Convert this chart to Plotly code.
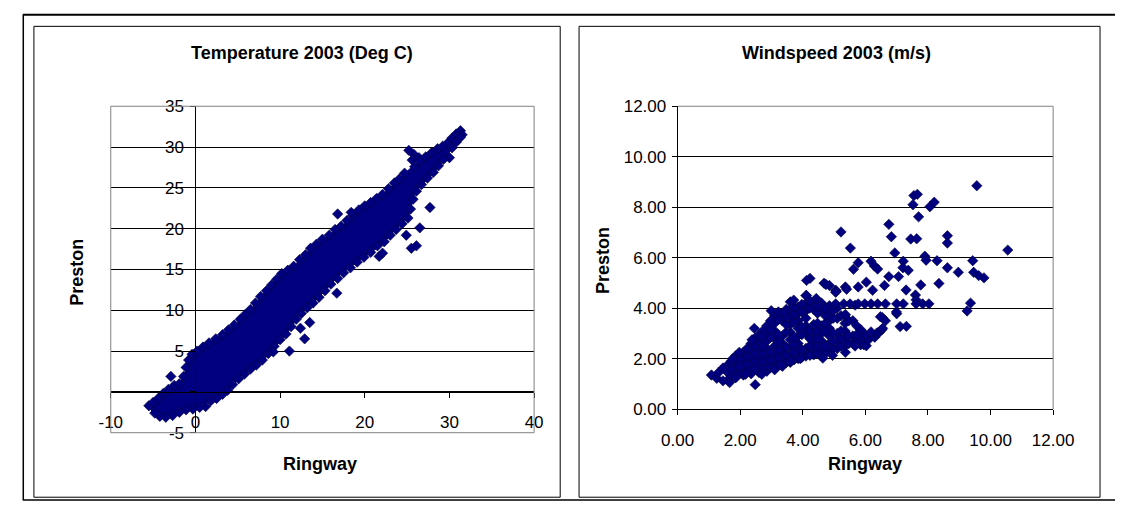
import plotly.graph_objects as go

# ------------------------------------------------------------------
# DATA
# ------------------------------------------------------------------
# Temperature 2003 (Deg C): Ringway (x) vs Preston (y)
# outline of the solid, fully over-plotted core of the cloud
temp_core_outline = [
    (-5.6, -1.6), (-4.5, -0.8), (-3.2, 0.3), (-1.8, 1.0), (-1.2, 2.5), (-0.7, 4.2),
    (0.0, 4.9), (0.8, 5.5), (2.7, 6.7), (4.5, 8.0), (6.5, 10.0), (8.0, 12.0),
    (10.0, 14.3), (12.0, 15.8), (13.7, 17.6), (15.2, 18.8), (17.5, 20.5), (19.0, 22.0),
    (21.3, 23.6), (22.8, 24.8), (24.4, 26.5), (25.5, 27.5), (27.0, 28.6), (28.9, 29.8),
    (30.4, 31.3), (31.2, 31.6),
    (31.0, 31.0), (30.6, 30.4), (29.6, 28.7), (28.1, 26.8), (25.9, 24.4), (25.1, 21.3),
    (23.6, 19.9), (22.1, 18.1), (19.8, 16.4), (17.1, 14.4), (14.5, 11.5), (12.5, 9.7),
    (10.7, 7.0), (8.4, 4.3), (5.7, 2.2), (3.8, 0.2), (2.0, -1.0), (0.8, -1.5),
    (0.0, -2.0), (-1.5, -2.4), (-3.0, -3.0), (-4.3, -3.0), (-5.2, -2.4),
]
# individual points along the upper edge of the cloud
temp_upper_edge = [
    (-5.5, -1.7), (-5.0, -1.3), (-4.4, -0.8), (-3.8, -0.2), (-3.2, 0.3), (-2.9, 1.9),
    (-2.5, 0.8), (-1.9, 1.0), (-1.4, 1.9), (-1.1, 3.0), (-0.8, 3.9), (-0.4, 4.6),
    (0.2, 5.0), (0.9, 5.5), (1.6, 6.0), (2.4, 6.5), (3.2, 7.0), (3.9, 7.6),
    (4.6, 8.2), (5.3, 8.9), (5.9, 9.5), (6.5, 10.1), (7.1, 10.9), (7.7, 11.7),
    (8.4, 12.4), (9.0, 13.1), (9.6, 13.8), (10.2, 14.5), (10.9, 14.9), (11.6, 15.4),
    (12.3, 16.2), (13.0, 16.8), (13.6, 17.6), (14.3, 18.1), (15.0, 18.7), (15.8, 19.2),
    (16.5, 19.9), (17.2, 20.3), (17.9, 21.0), (18.6, 21.6), (19.3, 22.3), (20.0, 22.8),
    (20.7, 23.2), (21.4, 23.7), (22.1, 24.2), (22.8, 24.9), (23.5, 25.6), (24.1, 26.1),
    (24.7, 26.8), (25.2, 29.6), (25.8, 29.1), (26.4, 28.7), (25.6, 28.4), (25.9, 27.6),
    (26.5, 28.3), (27.2, 28.8), (27.9, 29.3), (28.6, 29.8), (29.2, 30.1), (29.8, 30.5),
    (30.3, 31.1), (30.8, 31.6), (31.3, 32.0), (31.5, 31.5),
]
# individual points along the lower edge of the cloud
temp_lower_edge = [
    (31.3, 31.2), (30.8, 30.6), (30.3, 29.9), (30.0, 28.7), (29.3, 28.5), (28.7, 27.7),
    (28.1, 26.9), (27.4, 26.2), (26.7, 25.4), (26.1, 24.6), (25.7, 23.6), (25.4, 22.4),
    (25.1, 21.3), (24.4, 20.6), (23.7, 19.9), (23.0, 19.2), (22.3, 18.4), (21.5, 17.9),
    (20.7, 17.1), (19.9, 16.5), (19.1, 15.9), (18.3, 15.2), (17.5, 14.6), (16.8, 13.9),
    (16.0, 13.2), (15.3, 12.4), (14.6, 11.6), (13.9, 10.9), (13.2, 10.3), (12.5, 9.6),
    (11.9, 8.9), (11.3, 8.0), (10.7, 7.1), (10.0, 6.4), (9.3, 5.6), (8.6, 4.7),
    (7.9, 3.9), (7.2, 3.3), (6.5, 2.8), (5.8, 2.2), (5.1, 1.6), (4.4, 0.9),
    (3.8, 0.2), (3.2, -0.3), (2.5, -0.8), (1.8, -1.1), (1.2, -1.8), (0.5, -1.9),
    (-0.3, -2.1), (-1.1, -2.2), (-1.9, -2.5), (-2.7, -2.9), (-3.5, -3.1), (-4.2, -3.0),
    (-4.8, -2.6),
]
# isolated points away from the cloud
temp_outliers = [
    (16.8, 21.8), (18.4, 22.0), (16.7, 12.1), (13.5, 8.5), (12.9, 6.5), (12.4, 7.8),
    (11.1, 5.0), (9.2, 4.9), (21.7, 16.6), (22.1, 17.0), (24.9, 19.2), (25.5, 17.6),
    (26.1, 17.9), (26.5, 20.1), (27.7, 22.6),
]

# Windspeed 2003 (m/s): Ringway (x) vs Preston (y)
wind_core = [
    (1.6, 1.15), (1.6, 1.45), (1.6, 1.75),
    (1.85, 1.25), (1.85, 1.55), (1.85, 1.85), (1.85, 2.1),
    (2.1, 1.35), (2.1, 1.65), (2.1, 1.95), (2.1, 2.25),
    (2.35, 1.4), (2.35, 1.7), (2.35, 2.0), (2.35, 2.3), (2.35, 2.6),
    (2.6, 1.45), (2.6, 1.75), (2.6, 2.05), (2.6, 2.35), (2.6, 2.65), (2.6, 2.95),
    (2.85, 1.5), (2.85, 1.8), (2.85, 2.1), (2.85, 2.4), (2.85, 2.7), (2.85, 3.0), (2.85, 3.3),
    (3.1, 1.6), (3.1, 1.9), (3.1, 2.2), (3.1, 2.5), (3.1, 2.8), (3.1, 3.1), (3.1, 3.4), (3.1, 3.7),
    (3.35, 1.7), (3.35, 2.0), (3.35, 2.3), (3.35, 2.6), (3.35, 2.9), (3.35, 3.5), (3.35, 3.8),
    (3.6, 1.85), (3.6, 2.15), (3.6, 2.45), (3.6, 2.75), (3.6, 3.05), (3.6, 3.35), (3.6, 3.65),
    (3.6, 3.95), (3.6, 4.25),
    (3.85, 2.0), (3.85, 2.3), (3.85, 2.6), (3.85, 2.9), (3.85, 3.2), (3.85, 3.5), (3.85, 3.8),
    (3.85, 4.05),
    (4.1, 2.1), (4.1, 2.4), (4.1, 3.0), (4.1, 3.3), (4.1, 3.6), (4.1, 3.9), (4.1, 4.2), (4.1, 4.5),
    (4.35, 2.15), (4.35, 2.45), (4.35, 2.75), (4.35, 3.05), (4.35, 3.35), (4.35, 3.95), (4.35, 4.25),
    (4.6, 2.1), (4.6, 2.4), (4.6, 2.7), (4.6, 3.0), (4.6, 3.3), (4.6, 3.9), (4.6, 4.2),
    (4.85, 2.3), (4.85, 2.6), (4.85, 2.9), (4.85, 3.2), (4.85, 3.5), (4.85, 3.8), (4.85, 4.1),
    (5.1, 2.4), (5.1, 2.7), (5.1, 3.0), (5.1, 3.6), (5.1, 4.0),
    (5.35, 2.5), (5.35, 2.8), (5.35, 3.1), (5.35, 3.4), (5.35, 3.7),
    (5.6, 2.6), (5.6, 2.9), (5.6, 3.5),
    (5.85, 2.55), (5.85, 2.85), (5.85, 3.15),
]
# second, offset row of points in the dense part of the cluster
wind_core_between = [
    (1.72, 1.3), (1.72, 1.6), (1.72, 1.9),
    (1.97, 1.4), (1.97, 1.7), (1.97, 2.0),
    (2.22, 1.5), (2.22, 1.8), (2.22, 2.1), (2.22, 2.4),
    (2.47, 1.6), (2.47, 1.9), (2.47, 2.2), (2.47, 2.5), (2.47, 2.8),
    (2.72, 1.6), (2.72, 1.9), (2.72, 2.2), (2.72, 2.5), (2.72, 3.1),
    (2.97, 1.65), (2.97, 1.95), (2.97, 2.25), (2.97, 2.85), (2.97, 3.15), (2.97, 3.5),
    (3.22, 1.75), (3.22, 2.05), (3.22, 2.35), (3.22, 2.65), (3.22, 2.95), (3.22, 3.55), (3.22, 3.85),
    (3.47, 1.85), (3.47, 2.15), (3.47, 2.45), (3.47, 3.05), (3.47, 3.35),
    (3.47, 3.65), (3.47, 3.95),
    (3.72, 1.95), (3.72, 2.25), (3.72, 2.55), (3.72, 2.85), (3.72, 3.45),
    (3.72, 3.75), (3.72, 4.05),
    (3.97, 2.05), (3.97, 2.35), (3.97, 2.95), (3.97, 3.25), (3.97, 3.85), (3.97, 4.15),
    (4.22, 2.2), (4.22, 2.5), (4.22, 2.8), (4.22, 3.1), (4.22, 4.0), (4.22, 4.3),
    (4.47, 2.2), (4.47, 2.5), (4.47, 2.8), (4.47, 3.1), (4.47, 3.4), (4.47, 3.8), (4.47, 4.1),
    (4.72, 2.2), (4.72, 2.5), (4.72, 3.1), (4.72, 3.4), (4.72, 3.7), (4.72, 4.0),
    (4.97, 2.4), (4.97, 2.7), (4.97, 3.0), (4.97, 3.6), (4.97, 3.9),
    (5.22, 2.5), (5.22, 2.8), (5.22, 3.1), (5.22, 3.7),
    (5.47, 2.6), (5.47, 2.9), (5.47, 3.5),
    (5.72, 2.65), (5.72, 2.95), (5.72, 3.3),
]
wind_cluster_edge = [
    (1.08, 1.35), (1.25, 1.22), (1.30, 1.44), (1.45, 1.12), (1.45, 1.63), (1.66, 1.05),
    (1.76, 2.0), (1.97, 2.25), (1.86, 1.25), (2.17, 1.38), (2.48, 0.97), (2.45, 3.20),
    (2.38, 2.75), (2.69, 2.88), (2.69, 1.38), (2.99, 3.90), (3.10, 1.56), (3.30, 1.75),
    (3.40, 3.81), (3.60, 1.88), (3.71, 4.32), (3.92, 2.0), (4.23, 2.13), (4.64, 2.02),
    (4.95, 2.13), (5.36, 2.25), (5.67, 2.5), (4.12, 4.5), (4.43, 4.38), (5.67, 4.12),
    (5.36, 3.75), (5.95, 2.55), (6.03, 2.51), (6.10, 2.75), (6.30, 2.85), (6.14, 2.90),
    (6.00, 2.95), (6.37, 3.02), (6.45, 3.05), (6.53, 3.15), (6.55, 3.20),
]
wind_scatter = [
    (9.56, 8.85), (10.55, 6.30), (7.55, 8.46), (7.66, 8.51), (7.52, 8.10), (8.06, 8.02),
    (8.20, 8.20), (7.70, 7.62), (6.75, 7.32), (6.83, 6.83), (5.22, 7.02), (5.52, 6.38),
    (7.45, 6.74), (7.64, 6.75), (8.62, 6.87), (8.62, 6.58), (6.94, 6.19), (7.90, 6.06),
    (7.94, 5.90), (8.29, 5.88), (9.43, 5.88), (8.62, 5.60), (8.97, 5.42), (9.46, 5.42),
    (9.62, 5.29), (9.79, 5.20), (8.35, 4.98), (7.77, 4.92), (7.30, 4.72), (7.60, 4.52),
    (7.62, 4.33), (9.36, 4.20), (9.25, 3.89), (7.00, 3.78), (6.54, 3.63), (6.64, 3.50),
    (7.11, 3.27), (7.31, 3.28), (6.18, 3.06), (7.21, 5.86), (7.20, 5.60), (7.37, 5.50),
    (5.77, 5.80), (6.18, 5.86), (6.29, 5.67), (6.39, 5.55), (5.62, 5.54), (6.75, 5.25),
    (7.06, 5.25), (4.85, 4.90), (5.05, 4.71), (5.36, 4.84), (5.77, 4.84), (6.03, 5.03),
    (6.23, 4.71), (6.61, 4.90), (5.07, 4.67), (4.68, 4.99), (4.23, 5.18), (4.12, 5.10),
    (4.74, 4.94), (5.40, 4.75), (5.05, 4.63), (6.99, 3.85), (6.48, 3.66),
    (5.05, 4.17), (5.31, 4.17), (5.51, 4.17), (5.77, 4.17), (5.98, 4.17), (6.18, 4.17),
    (6.39, 4.17), (6.64, 4.17), (7.00, 4.17), (7.21, 4.17), (7.62, 4.17), (7.83, 4.17),
    (8.03, 4.17),
]

temp_x_ticks = [-10, 0, 10, 20, 30, 40]
temp_x_ticktext = ["-10", "0", "10", "20", "30", "40"]
temp_y_ticks = [-5, 0, 5, 10, 15, 20, 25, 30, 35]
temp_y_ticktext = ["-5", "", "5", "10", "15", "20", "25", "30", "35"]
wind_ticks = [0, 2, 4, 6, 8, 10, 12]

# ------------------------------------------------------------------
# STYLE / LAYOUT
# ------------------------------------------------------------------
W, H = 1136, 513
NAVY = "#000080"
GRAY = "#808080"
FONT = "Liberation Sans, Arial, sans-serif"
TICK_FONT = dict(family=FONT, size=17, color="black")
TITLE_FONT = dict(family=FONT, size=18, color="black")


def fx(p):
    """pixel column -> paper x"""
    return p / W


def fy(p):
    """pixel row -> paper y"""
    return 1 - p / H


def xs(pts):
    return [p[0] for p in pts]


def ys(pts):
    return [p[1] for p in pts]


temp_xrange = [-10, 40]
temp_yrange = [-5, 35]
wind_range = [0, 12]

lx_dom = [fx(97), fx(535)]
ly_dom = [fy(440), fy(101)]
rx_dom = [fx(683.5), fx(1072)]
ry_dom = [fy(415.5), fy(101)]

# the temperature axes cross at (0, 0)
x_axis_pos = ly_dom[0] + (0 - temp_yrange[0]) / (temp_yrange[1] - temp_yrange[0]) * (ly_dom[1] - ly_dom[0])
y_axis_pos = lx_dom[0] + (0 - temp_xrange[0]) / (temp_xrange[1] - temp_xrange[0]) * (lx_dom[1] - lx_dom[0])

marker = dict(symbol="diamond", size=8, color=NAVY, line=dict(color="#00003a", width=0.6))

fig = go.Figure()
fig.add_trace(go.Scatter(
    x=xs(temp_core_outline), y=ys(temp_core_outline), mode="lines", fill="toself",
    fillcolor=NAVY, line=dict(color=NAVY, width=1), xaxis="x", yaxis="y",
    hoverinfo="skip", showlegend=False,
))
temp_points = temp_upper_edge + temp_lower_edge + temp_outliers
fig.add_trace(go.Scatter(
    x=xs(temp_points), y=ys(temp_points), mode="markers", marker=marker,
    xaxis="x", yaxis="y", showlegend=False, name="Temperature",
))
wind_points = wind_core + wind_core_between + wind_cluster_edge + wind_scatter
fig.add_trace(go.Scatter(
    x=xs(wind_points), y=ys(wind_points), mode="markers", marker=marker,
    xaxis="x2", yaxis="y2", showlegend=False, name="Windspeed",
))

axis_common = dict(
    ticks="outside", ticklen=5, tickcolor="black", tickwidth=1,
    showline=True, linecolor="black", linewidth=1, zeroline=False,
    tickfont=TICK_FONT, fixedrange=True,
)

fig.update_layout(
    width=W, height=H, margin=dict(l=0, r=0, t=0, b=0), autosize=False,
    paper_bgcolor="white", plot_bgcolor="white",
    xaxis=dict(domain=lx_dom, range=temp_xrange, anchor="free", position=x_axis_pos,
               tickmode="array", tickvals=temp_x_ticks, ticktext=temp_x_ticktext,
               showgrid=False, ticklabelstandoff=10, **axis_common),
    yaxis=dict(domain=ly_dom, range=temp_yrange, anchor="free", position=y_axis_pos,
               tickmode="array", tickvals=temp_y_ticks, ticktext=temp_y_ticktext,
               showgrid=True, gridcolor="black", gridwidth=1,
               ticklabelstandoff=3, **axis_common),
    xaxis2=dict(domain=rx_dom, range=wind_range, anchor="y2", tickmode="array",
                tickvals=wind_ticks, tickformat=".2f", showgrid=False,
                ticklabelstandoff=10, **axis_common),
    yaxis2=dict(domain=ry_dom, range=wind_range, anchor="x2", tickmode="array",
                tickvals=wind_ticks, tickformat=".2f", showgrid=True,
                gridcolor="black", gridwidth=1, ticklabelstandoff=2, **axis_common),
)

shapes = [
    # outer frame (top, left, bottom)
    dict(type="line", xref="paper", yref="paper", x0=fx(6), x1=1, y0=fy(6), y1=fy(6),
         line=dict(color="black", width=2)),
    dict(type="line", xref="paper", yref="paper", x0=fx(6.5), x1=fx(6.5), y0=fy(6), y1=fy(510),
         line=dict(color="black", width=1.5)),
    dict(type="line", xref="paper", yref="paper", x0=fx(6), x1=1, y0=fy(510), y1=fy(510),
         line=dict(color="black", width=1.5)),
    # chart boxes
    dict(type="rect", xref="paper", yref="paper", x0=fx(17.5), x1=fx(562), y0=fy(507), y1=fy(18),
         line=dict(color="black", width=1)),
    dict(type="rect", xref="paper", yref="paper", x0=fx(581.5), x1=fx(1120.5), y0=fy(507), y1=fy(18),
         line=dict(color="black", width=1)),
    # plot-area borders
    dict(type="rect", xref="x domain", yref="y domain", x0=0, x1=1, y0=0, y1=1,
         line=dict(color=GRAY, width=1), layer="above"),
    dict(type="line", xref="x2 domain", yref="y2 domain", x0=0, x1=1, y0=1, y1=1,
         line=dict(color=GRAY, width=1), layer="above"),
    dict(type="line", xref="x2 domain", yref="y2 domain", x0=1, x1=1, y0=0, y1=1,
         line=dict(color=GRAY, width=1), layer="above"),
]
fig.update_layout(shapes=shapes)

annotations = [
    dict(text="<b>Temperature 2003 (Deg C)</b>", x=fx(295), y=fy(46)),
    dict(text="<b>Windspeed 2003 (m/s)</b>", x=fx(848), y=fy(46)),
    dict(text="<b>Ringway</b>", x=fx(313), y=fy(473)),
    dict(text="<b>Ringway</b>", x=fx(877), y=fy(472)),
    dict(text="<b>Preston</b>", x=fx(62), y=fy(273), textangle=-90),
    dict(text="<b>Preston</b>", x=fx(607), y=fy(261), textangle=-90),
]
for a in annotations:
    a.update(xref="paper", yref="paper", showarrow=False, xanchor="center",
             yanchor="middle", font=TITLE_FONT)
fig.update_layout(annotations=annotations)

fig.write_html("out.html", config={"responsive": False, "displayModeBar": False})
